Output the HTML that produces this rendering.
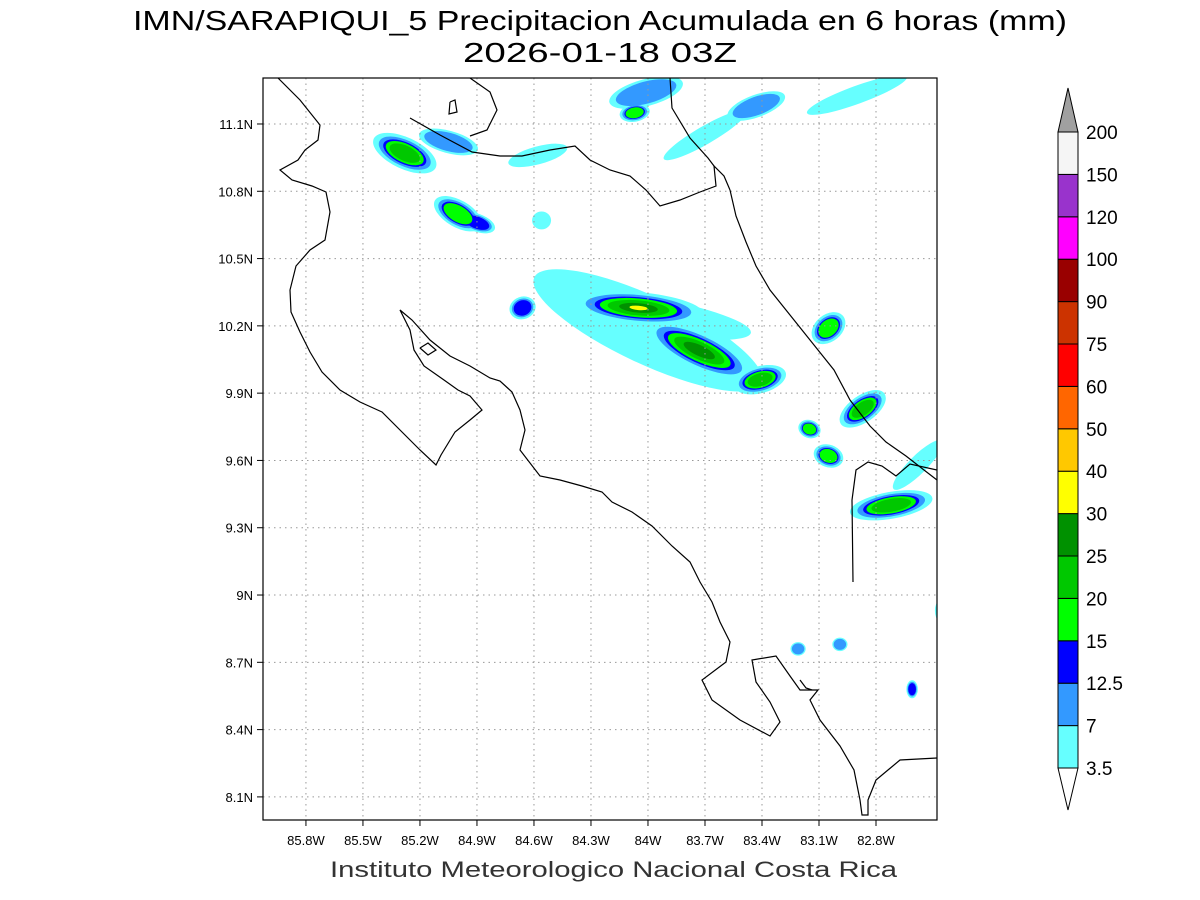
<!DOCTYPE html>
<html><head><meta charset="utf-8">
<style>
html,body{margin:0;padding:0;background:#fff;}
svg{display:block;font-family:"Liberation Sans",sans-serif;}
</style></head>
<body>
<svg id="chart" width="1200" height="900" viewBox="0 0 1200 900">
<text x="133" y="30" textLength="934" lengthAdjust="spacingAndGlyphs" font-size="28" fill="#000">IMN/SARAPIQUI_5 Precipitacion Acumulada en 6 horas (mm)</text>
<text x="463" y="62" textLength="274" lengthAdjust="spacingAndGlyphs" font-size="28" fill="#000">2026-01-18 03Z</text>
<defs><clipPath id="plotclip"><rect x="263" y="78" width="674" height="742"/></clipPath></defs>
<g id="rain" clip-path="url(#plotclip)"></g>
<g id="grid"></g>
<g id="coast" clip-path="url(#plotclip)" fill="none" stroke="#000" stroke-width="1.2"></g>
<rect x="263" y="78" width="674" height="742" fill="none" stroke="#000" stroke-width="1.2"/>
<g id="axes"></g>
<g id="cbar"></g>
<text x="330" y="877" textLength="567" lengthAdjust="spacingAndGlyphs" font-size="22" fill="#333">Instituto Meteorologico Nacional Costa Rica</text>
</svg>
<script>
const NS="http://www.w3.org/2000/svg";
const lonTicks=[85.8,85.5,85.2,84.9,84.6,84.3,84.0,83.7,83.4,83.1,82.8];
const lonLabels=["85.8W","85.5W","85.2W","84.9W","84.6W","84.3W","84W","83.7W","83.4W","83.1W","82.8W"];
const latTicks=[11.1,10.8,10.5,10.2,9.9,9.6,9.3,9.0,8.7,8.4,8.1];
const latLabels=["11.1N","10.8N","10.5N","10.2N","9.9N","9.6N","9.3N","9N","8.7N","8.4N","8.1N"];
const cbarLevels=["3.5","7","12.5","15","20","25","30","40","50","60","75","90","100","120","150","200"];
const cbarColors=["#66ffff","#3399ff","#0000ff","#00ff00","#00c800","#009100","#ffff00","#ffc800","#ff6600","#ff0000","#cc3300","#990000","#ff00ff","#9933cc","#f5f5f5"];
// rain cells: lon(W), lat(N), semi-axes (deg), rotation, max level index
const cellLon=[85.28,85.05,85.00,84.90,84.56,84.01,84.07,83.43,82.90,84.00,84.05,83.73,83.41,84.66,83.05,82.87,83.15,83.05,82.72,82.58,83.21,82.99,82.61,82.47,84.58,83.70,84.00];
const cellLat=[10.97,11.02,10.70,10.66,10.67,11.24,11.15,11.18,11.23,10.18,10.28,10.09,9.96,10.28,10.19,9.83,9.74,9.62,9.40,9.58,8.76,8.78,8.58,8.93,10.96,11.05,10.25];
const cellRx=[0.18,0.16,0.14,0.10,0.05,0.20,0.08,0.16,0.28,0.66,0.34,0.30,0.14,0.07,0.10,0.14,0.06,0.08,0.22,0.18,0.04,0.04,0.03,0.02,0.16,0.25,0.55];
const cellRy=[0.07,0.05,0.06,0.04,0.04,0.06,0.04,0.05,0.04,0.15,0.07,0.08,0.06,0.05,0.06,0.06,0.04,0.05,0.06,0.04,0.03,0.03,0.04,0.04,0.04,0.04,0.08];
const cellRot=[25,15,30,20,0,-15,-10,-20,-20,25,5,25,-15,-20,-40,-35,20,20,-10,-45,0,0,0,0,-15,-30,10];
const cellMax=[4,1,3,2,0,1,3,1,0,0,6,5,4,2,3,4,3,3,4,0,1,1,2,0,0,0,0];
const L0=86.026,L1=82.479,T=11.305,B=7.997,X0=263,X1=937,Y0=78,Y1=820;
const xs=lon=>X0+(L0-lon)/(L0-L1)*(X1-X0);
const ys=lat=>Y0+(T-lat)/(T-B)*(Y1-Y0);
const pxLon=(X1-X0)/(L0-L1), pxLat=(Y1-Y0)/(T-B);
function mk(tag,attrs,parent){const e=document.createElementNS(NS,tag);for(const k in attrs)e.setAttribute(k,attrs[k]);parent.appendChild(e);return e;}
const rain=document.getElementById('rain');
const layerScale=[1,0.82,0.68,0.6,0.48,0.3,0.14];
for(let lev=0;lev<=6;lev++){
  for(let i=0;i<cellLon.length;i++){
    if(cellMax[i]<lev)continue;
    const f=layerScale[lev];
    const cx=xs(cellLon[i]),cy=ys(cellLat[i]);
    const e=mk('ellipse',{cx:cx,cy:cy,rx:cellRx[i]*pxLon*f,ry:cellRy[i]*pxLat*f,transform:`rotate(${cellRot[i]} ${cx} ${cy})`,fill:cbarColors[lev]},rain);
    
    
  }
}
const grid=document.getElementById('grid'),axes=document.getElementById('axes');
lonTicks.forEach((v,i)=>{const x=xs(v);
  const g=mk('line',{x1:x,x2:x,y1:Y0,y2:Y1,stroke:'#999','stroke-dasharray':'1.5,4'},grid);
  
  mk('line',{x1:x,x2:x,y1:Y1,y2:Y1+6,stroke:'#000'},axes);
  const t=mk('text',{x:x,y:Y1+25,'text-anchor':'middle','font-size':13},axes);t.textContent=lonLabels[i];
  
});
latTicks.forEach((v,i)=>{const y=ys(v);
  const g=mk('line',{x1:X0,x2:X1,y1:y,y2:y,stroke:'#999','stroke-dasharray':'1.5,4'},grid);
  
  mk('line',{x1:X0-6,x2:X0,y1:y,y2:y,stroke:'#000'},axes);
  const t=mk('text',{x:X0-10,y:y+5,'text-anchor':'end','font-size':13},axes);t.textContent=latLabels[i];
  
});
const coast=document.getElementById('coast');
const lines=[
"278,78 300,100 320,125 318,140 305,150 298,160 280,170 292,180 312,186 326,192 330,212 325,240 310,250 296,266 290,290 291,312 300,332 310,352 322,372 340,390 360,402 382,412 400,430 420,450 436,465 441,455 455,432 470,420 482,410 470,396 458,390 444,380 424,366 414,350 410,330 400,310 412,320 430,340 450,356 470,366 490,378 500,381 512,392 520,410 525,430 520,450 540,476 560,480 582,486 602,492 612,502 632,512 652,526 672,546 690,562 700,582 712,602 720,622 730,642 726,662 702,680 712,700 740,720 770,736 780,722 770,702 756,682 752,660 776,656 790,676 800,690 818,690 810,700 820,720 840,746 854,770 860,800 862,815 868,815 868,800 876,780 900,760 937,758",
"470,78 490,92 497,110 487,130 470,136",
"410,118 440,135 472,152 500,156 522,156 550,150 575,146 590,160 610,170 630,176 646,190 660,206 680,200 700,192 716,186 714,166 724,176 730,190",
"670,78 672,108 690,138 708,158 714,166",
"730,190 736,216 746,242 756,266 770,290 790,315 810,340 834,370 850,400 870,426 886,442 906,456 924,470 937,480",
"853,582 852,500 856,470 868,462 882,466 896,476 910,464 937,470",
"420,348 428,343 436,350 428,355 420,348",
"450,102 455,100 457,112 449,114 450,102",
"800,680 806,688 812,690"
];
lines.forEach(p=>{const e=mk('polyline',{points:p},coast);});
const cb=document.getElementById('cbar');
const cx0=1058,cw=20,cTop=132,cBot=768,n=cbarColors.length,bh=(cBot-cTop)/n;
mk('polygon',{points:`${cx0},${cTop} ${cx0+cw/2},88 ${cx0+cw},${cTop}`,fill:'#a0a0a0',stroke:'#000'},cb);
mk('polygon',{points:`${cx0},${cBot} ${cx0+cw/2},810 ${cx0+cw},${cBot}`,fill:'#fff',stroke:'#000'},cb);
cbarColors.forEach((c,i)=>{const y=cBot-(i+1)*bh;
  const r=mk('rect',{x:cx0,y:y,width:cw,height:bh,fill:c,stroke:'#000'},cb);
  });
cbarLevels.forEach((v,i)=>{const y=cBot-i*bh;
  const t=mk('text',{x:cx0+28,y:y+7,'font-size':19},cb);t.textContent=v;
  });
</script>
</body></html>
